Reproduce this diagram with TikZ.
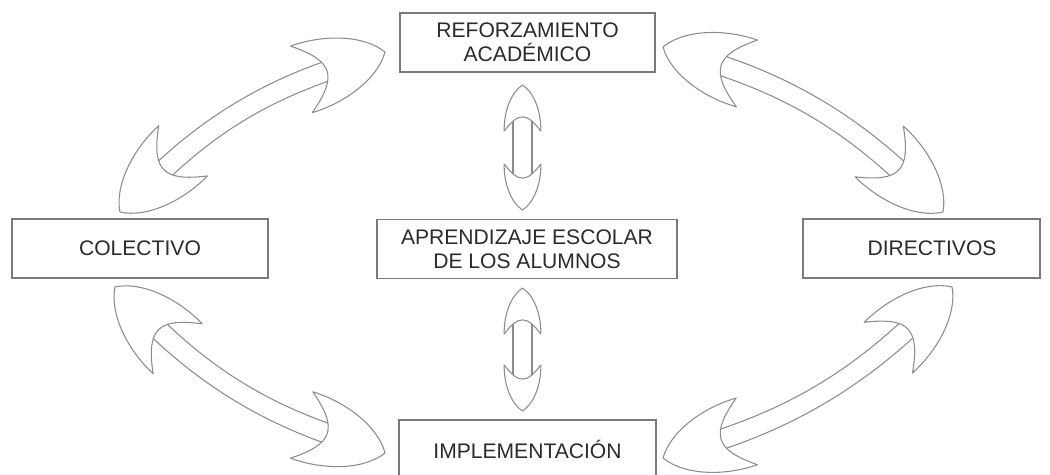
\documentclass[tikz,border=0pt]{standalone}
\usepackage{fontspec}
\setmainfont{Liberation Sans}
\usetikzlibrary{calc}

\definecolor{boxgray}{HTML}{7A7A7A}
\definecolor{arrowgray}{HTML}{8C8C8C}
\definecolor{textgray}{HTML}{2B2B2B}

\tikzset{
  box/.style={draw=boxgray, line width=0.8pt, fill=white, minimum height=1.18cm,
    align=center, text=textgray, font=\fontsize{12}{13.6}\selectfont, inner sep=0pt},
  arrowline/.style={draw=arrowgray, line width=0.6pt, fill=white, line join=round}
}

% head with its tip at the origin, pointing along +x
\newcommand{\arrowhead}{(0,0) .. controls (-15,23) and (-53,36) .. (-88,35)
  .. controls (-52,8) and (-52,-8) .. (-88,-35)
  .. controls (-53,-36) and (-15,-23) .. (0,0) -- cycle}

% #1 from, #2 to, #3 bend, #4 head scale, #5 half shaft width
\newcommand{\blockarrow}[5]{%
  \path let \p1=(#1), \p2=(#2) in \pgfextra{%
    \pgfmathparse{atan2(\y2-\y1,\x2-\x1)}\xdef\arrang{\pgfmathresult}%
    \pgfmathparse{veclen(\x2-\x1,\y2-\y1)/0.5690551}\xdef\arrlen{\pgfmathresult}};
  \begin{scope}[shift={(#1)}, rotate=\arrang, x=0.02cm, y=-0.02cm]
    \begin{scope}[shift={(\arrlen,0)}, rotate=#3]
      \coordinate (bo) at ({-50*#4},#5);
      \coordinate (bi) at ({-50*#4},-#5);
      \coordinate (boc) at ({-50*#4-0.36*(\arrlen-100*#4)},#5);
      \coordinate (bic) at ({-50*#4-0.36*(\arrlen-100*#4)},-#5);
    \end{scope}
    \begin{scope}[rotate=180-#3]
      \coordinate (ao) at ({-50*#4},-#5);
      \coordinate (ai) at ({-50*#4},#5);
      \coordinate (aoc) at ({-50*#4-0.36*(\arrlen-100*#4)},-#5);
      \coordinate (aic) at ({-50*#4-0.36*(\arrlen-100*#4)},#5);
    \end{scope}
    \path [arrowline] (bo) .. controls (boc) and (aoc) .. (ao) -- (ai)
      .. controls (aic) and (bic) .. (bi) -- cycle;
    \path [arrowline, shift={(\arrlen,0)}, rotate=#3, scale=#4] \arrowhead;
    \path [arrowline, rotate=180-#3, scale=#4] \arrowhead;
  \end{scope}}

\begin{document}
\begin{tikzpicture}[x=0.02cm, y=-0.02cm]
\useasboundingbox (0,0) rectangle (1050,475);
\clip (0,0) rectangle (1050,475);

\node [box, minimum width=5.1cm] (refuerzo) at (527.5,42.5) {REFORZAMIENTO\\ACADÉMICO};
\node [box, minimum width=6cm] (aprendizaje) at (527,249) {APRENDIZAJE ESCOLAR\\DE LOS ALUMNOS};
\node [box, minimum width=5.12cm] (colectivo) at (140,248.5) {COLECTIVO};
\node [box, minimum width=4.74cm] (directivos) at (921.5,248.5) {\hspace*{12pt}DIRECTIVOS};
\node [box, minimum width=5.14cm] (implementacion) at (527.5,449.5) {IMPLEMENTACIÓN};

% tips of the arrows
\coordinate (tl-a) at (385,52);
\coordinate (tl-b) at (120,212);
\coordinate (bl-a) at (115,287);
\coordinate (bl-b) at (385,453);
\coordinate (br-a) at (663,458);
\coordinate (br-b) at (952,287);
\coordinate (tr-a) at (943,212);
\coordinate (tr-b) at (663,47);
\coordinate (up-a) at (522.5,85);
\coordinate (up-b) at (522.5,210);
\coordinate (dn-a) at (522.5,288);
\coordinate (dn-b) at (522.5,411);

\blockarrow{tl-a}{tl-b}{13}{1}{10}
\blockarrow{bl-a}{bl-b}{13}{1}{10}
\blockarrow{br-a}{br-b}{13}{1}{10}
\blockarrow{tr-a}{tr-b}{13}{1}{10}
\blockarrow{up-a}{up-b}{0}{0.523}{9.5}
\blockarrow{dn-a}{dn-b}{0}{0.523}{9.5}
\end{tikzpicture}
\end{document}
